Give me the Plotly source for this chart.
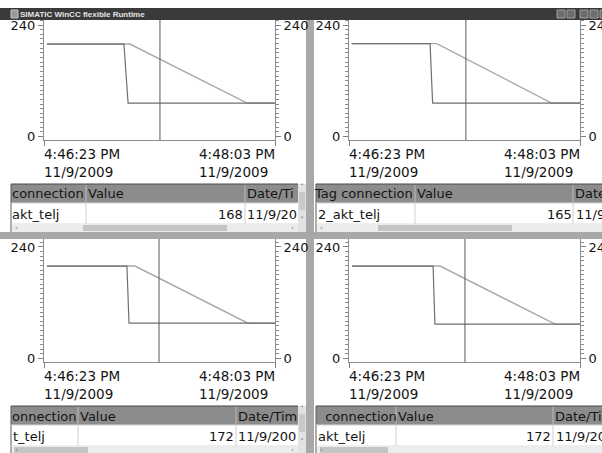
import plotly.graph_objects as go

# ------------------------------------------------------------------ data
DAY = "2009-11-09 "
T_START = "16:46:23"
T_END = "16:48:03"
time_label_start = "4:46:23 PM<br>11/9/2009"
time_label_end = "4:48:03 PM<br>11/9/2009"
y_tick_values = [0, 240]
y_tick_text = ["0", "240"]

title_text = "SIMATIC WinCC flexible Runtime"

# top-left trend
tl_slope_time = ["16:46:24.3", "16:47:00.2", "16:47:50.9", "16:48:03"]
tl_slope_value = [199, 199, 72, 72]
tl_step_time = ["16:46:24.3", "16:46:57.6", "16:46:59.4", "16:48:03"]
tl_step_value = [199, 199, 72, 72]
tl_cursor_time = "16:47:13.2"
tl_header = ["connection", "Value", "Date/Ti"]
tl_row = ["akt_telj", "168", "11/9/20"]

# top-right trend
tr_slope_time = ["16:46:24.2", "16:47:01.0", "16:47:50.7", "16:48:03"]
tr_slope_value = [200, 200, 72, 72]
tr_step_time = ["16:46:24.2", "16:46:58.1", "16:46:59.2", "16:48:03"]
tr_step_value = [200, 200, 72, 72]
tr_cursor_time = "16:47:13.6"
tr_header = ["Tag connection", "Value", "Date/Time"]
tr_row = ["2_akt_telj", "165", "11/9/2009"]

# bottom-left trend
bl_slope_time = ["16:46:24.3", "16:47:02.4", "16:47:51.3", "16:48:03"]
bl_slope_value = [199, 199, 76, 76]
bl_step_time = ["16:46:24.3", "16:46:58.9", "16:46:59.8", "16:48:03"]
bl_step_value = [199, 199, 76, 76]
bl_cursor_time = "16:47:12.8"
bl_header = ["onnection", "Value", "Date/Tim"]
bl_row = ["t_telj", "172", "11/9/200"]

# bottom-right trend
br_slope_time = ["16:46:24.3", "16:47:02.4", "16:47:52.2", "16:48:03"]
br_slope_value = [199, 199, 74, 74]
br_step_time = ["16:46:24.3", "16:46:59.4", "16:47:00.2", "16:48:03"]
br_step_value = [199, 199, 74, 74]
br_cursor_time = "16:47:13.2"
br_header = [" connection", "Value", "Date/Time"]
br_row = ["akt_telj", "172", "11/9/2009"]

# ------------------------------------------------------------------ layout helpers
W, H = 602, 453
FONT = "DejaVu Sans"


def px(x):
    return x / W


def py(y):
    return 1 - y / H


shapes = []
annotations = []


def rect(x0, y0, x1, y1, fill, line=None):
    shapes.append(dict(type="rect", xref="paper", yref="paper",
                       x0=px(x0), x1=px(x1), y0=py(y1), y1=py(y0),
                       fillcolor=fill, layer="below",
                       line=dict(width=0) if line is None else dict(color=line, width=1)))


def seg(x0, y0, x1, y1, color, width=1):
    shapes.append(dict(type="line", xref="paper", yref="paper",
                       x0=px(x0), x1=px(x1), y0=py(y0), y1=py(y1),
                       layer="below", line=dict(color=color, width=width)))


def txt(x, y, s, anchor="left", size=13, color="#141414", family=FONT):
    annotations.append(dict(x=px(x), y=py(y), xref="paper", yref="paper", text=s,
                            showarrow=False, xanchor=anchor, yanchor="middle",
                            borderpad=0, borderwidth=0,
                            font=dict(family=family, size=size, color=color)))


# ------------------------------------------------------------------ window chrome
rect(0, 8, 602, 20, "#3a3a3a")
rect(11, 10, 18, 18, "#9a9a9a", line="#c8c8c8")
txt(20, 14, "<b>" + title_text + "</b>", size=8, color="#e4e4e4", family="Liberation Sans")
for bx in (557, 567, 580, 590, 600):
    rect(bx, 10, bx + 8, 18, "#6c6c6c", line="#a0a0a0")

# separators between the four views
rect(306, 20, 314, 453, "#a8a8a8")
rect(0, 232, 602, 239, "#a8a8a8")


# ------------------------------------------------------------------ tables
def table(x0, x1, ytop, seps, header, row, thumb, vbar, hx, rx):
    yh1 = ytop + 19
    yr1 = yh1 + 21
    xr = x1 - 8 if vbar else x1
    rect(x0, ytop, xr, yh1, "#8c8c8c")
    seg(x0, ytop, xr, ytop, "#4a4a4a")
    seg(x0, ytop, x0, yr1 + 8, "#5a5a5a")
    seg(x0, yh1, xr, yh1, "#d6d6d6")
    for s in seps:
        seg(s, ytop + 1, s, yh1, "#bcbcbc")
        seg(s, yh1, s, yr1, "#cfcfcf")
    seg(x0, yr1, xr, yr1, "#dcdcdc")
    # horizontal scrollbar
    rect(x0 + 1, yr1, xr, yr1 + 8, "#ececec")
    rect(thumb[0], yr1 + 1, thumb[1], yr1 + 7, "#c4c4c4")
    txt(x0 + 4, yr1 + 4, "‹", size=7, color="#777777")
    if vbar:
        txt(xr - 4, yr1 + 4, "›", size=7, color="#777777", anchor="right")
        rect(xr, ytop, x1, yr1 + 8, "#e2e2e2")
        rect(xr + 1, ytop + 8, x1 - 1, ytop + 26, "#c9c9c9")
        txt(xr + 4, ytop + 4, "ˆ", size=8, color="#666666", anchor="center")
        txt(xr + 4, yr1 - 3, "ˇ", size=8, color="#666666", anchor="center")
    ym_h = (ytop + yh1) / 2 + 0.5
    ym_r = (yh1 + yr1) / 2 + 0.5
    txt(hx[0], ym_h, header[0])
    txt(hx[1], ym_h, header[1])
    txt(hx[2], ym_h, header[2])
    txt(rx[0], ym_r, row[0])
    txt(rx[1], ym_r, row[1], anchor="right")
    txt(rx[2], ym_r, row[2])


table(11, 306, 184, [86, 245], tl_header, tl_row, (83, 227), True,
      (12, 88, 247), (12, 243, 247))
table(316, 602, 184, [415, 573], tr_header, tr_row, (378, 512), False,
      (314, 417, 575), (318, 572, 576))
table(11, 306, 406, [78, 236], bl_header, bl_row, (14, 88), True,
      (12, 80, 238), (13, 234, 238))
table(316, 602, 406, [396, 553], br_header, br_row, (320, 388), False,
      (321, 398, 555), (318, 551, 556))

# ------------------------------------------------------------------ trends
panels = [
    (tl_slope_time, tl_slope_value, tl_step_time, tl_step_value, tl_cursor_time),
    (tr_slope_time, tr_slope_value, tr_step_time, tr_step_value, tr_cursor_time),
    (bl_slope_time, bl_slope_value, bl_step_time, bl_step_value, bl_cursor_time),
    (br_slope_time, br_slope_value, br_step_time, br_step_value, br_cursor_time),
]
geo = [  # x-left, x-right, y-top, y-bottom (pixels), value range
    (44, 275, 20, 140, [-7.5, 250.8]),
    (349, 580, 20, 140, [-7.5, 250.8]),
    (44, 275, 239, 362, [-7.5, 257.2]),
    (349, 580, 239, 362, [-7.5, 257.2]),
]

fig = go.Figure()
layout_axes = {}

for i, ((st, sv, pt, pv, ct), (gx0, gx1, gy0, gy1, yr)) in enumerate(zip(panels, geo), start=1):
    xa = "x" if i == 1 else f"x{i}"
    ya = "y" if i == 1 else f"y{i}"
    yr_name = f"y{i + 4}"
    fig.add_trace(go.Scatter(x=[DAY + t for t in st], y=sv, mode="lines",
                             line=dict(color="#a9a9a9", width=1.4),
                             xaxis=xa, yaxis=ya, showlegend=False, hoverinfo="skip"))
    fig.add_trace(go.Scatter(x=[DAY + t for t in pt], y=pv, mode="lines",
                             line=dict(color="#6f6f6f", width=1.2),
                             xaxis=xa, yaxis=ya, showlegend=False, hoverinfo="skip"))
    fig.add_trace(go.Scatter(x=[DAY + ct, DAY + ct], y=yr, mode="lines",
                             line=dict(color="#5a5a5a", width=1),
                             xaxis=xa, yaxis=ya, showlegend=False, hoverinfo="skip"))
    fig.add_trace(go.Scatter(x=[DAY + T_START], y=[0], mode="markers", opacity=0,
                             xaxis=xa, yaxis=yr_name, showlegend=False, hoverinfo="skip"))

    xkey = "xaxis" if i == 1 else f"xaxis{i}"
    ykey = "yaxis" if i == 1 else f"yaxis{i}"
    layout_axes[xkey] = dict(
        type="date", domain=[px(gx0), px(gx1)], anchor=ya,
        range=[DAY + T_START, DAY + T_END],
        tickmode="array", tickvals=[DAY + T_START, DAY + T_END],
        ticks="outside", ticklen=5, tickcolor="#808080", showticklabels=False,
        showline=True, linecolor="#8c8c8c", linewidth=1,
        showgrid=False, zeroline=False, fixedrange=True, automargin=False)
    common_y = dict(
        domain=[py(gy1), py(gy0)], range=yr, anchor=xa,
        tickmode="array", tickvals=y_tick_values, ticktext=y_tick_text,
        ticks="outside", ticklen=5, tickcolor="#808080", tickwidth=1,
        minor=dict(tickmode="linear", tick0=0, dtick=10, ticks="outside",
                   ticklen=3, tickcolor="#8a8a8a", tickwidth=1, showgrid=False),
        showline=True, linecolor="#8c8c8c", linewidth=1,
        showgrid=False, zeroline=False, fixedrange=True, automargin=False,
        ticklabeloverflow="allow",
        tickfont=dict(family=FONT, size=13, color="#141414"))
    layout_axes[ykey] = dict(common_y, side="left")
    layout_axes[f"yaxis{i + 4}"] = dict(common_y, side="right", overlaying=ya)

    ymid = (gy1 + 23)
    annotations.append(dict(x=DAY + T_START, y=py(ymid), xref=xa, yref="paper",
                            text=time_label_start, showarrow=False, xanchor="left",
                            yanchor="middle", align="left", borderpad=0, borderwidth=0,
                            font=dict(family=FONT, size=13.5, color="#141414")))
    annotations.append(dict(x=DAY + T_END, y=py(ymid), xref=xa, yref="paper",
                            text=time_label_end, showarrow=False, xanchor="right",
                            yanchor="middle", align="left", borderpad=0, borderwidth=0,
                            font=dict(family=FONT, size=13.5, color="#141414")))

fig.update_layout(
    width=W, height=H, autosize=False,
    margin=dict(l=0, r=0, t=0, b=0, pad=0),
    paper_bgcolor="#ffffff", plot_bgcolor="rgba(0,0,0,0)",
    showlegend=False, shapes=shapes, annotations=annotations,
    **layout_axes)

fig.write_html("out.html",
               config={"displayModeBar": False, "staticPlot": True},
               post_script="document.body.style.margin='0';document.body.style.overflow='hidden';")
